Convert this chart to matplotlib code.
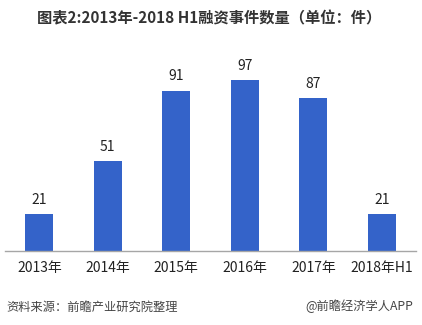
import matplotlib
matplotlib.use("Agg")
import matplotlib.pyplot as plt

plt.rcParams['font.family'] = ['Noto Sans CJK SC', 'DejaVu Sans']

categories = ["2013年", "2014年", "2015年", "2016年", "2017年", "2018年H1"]
values = [21, 51, 91, 97, 87, 21]
title = "图表2:2013年-2018 H1融资事件数量（单位：件）"
source = "资料来源：前瞻产业研究院整理"
credit = "@前瞻经济学人APP"

fig = plt.figure(figsize=(4.22, 3.25), dpi=100)
ax = fig.add_axes([0.012, (325 - 251) / 325, 0.974, 194 / 325])

x = range(len(categories))
bars = ax.bar(x, values, width=0.41, color="#3463c9")
ax.set_xlim(-0.5, len(categories) - 0.5)
ax.set_ylim(0, 110)
for xi, v in zip(x, values):
    ax.text(xi, v + 4, str(v), ha="center", va="bottom", fontsize=10, color="#222222")

ax.set_xticks(list(x))
ax.set_xticklabels(categories, fontsize=10, color="#222222")
ax.tick_params(axis="x", length=0, pad=7)
ax.set_yticks([])
for s in ["top", "right", "left"]:
    ax.spines[s].set_visible(False)
ax.spines["bottom"].set_color("#a6a6a6")
ax.spines["bottom"].set_linewidth(1)

fig.text(0.495, 1 - 18 / 325, title, ha="center", va="center", fontsize=11,
         fontweight="bold", color="#333333")
fig.text(0.015, 1 - 307 / 325, source, ha="left", va="center", fontsize=8.8,
         color="#444444", style="italic")
fig.text(0.98, 1 - 306 / 325, credit, ha="right", va="center", fontsize=8.8,
         color="#444444")

fig.savefig("out.png", dpi=100)
